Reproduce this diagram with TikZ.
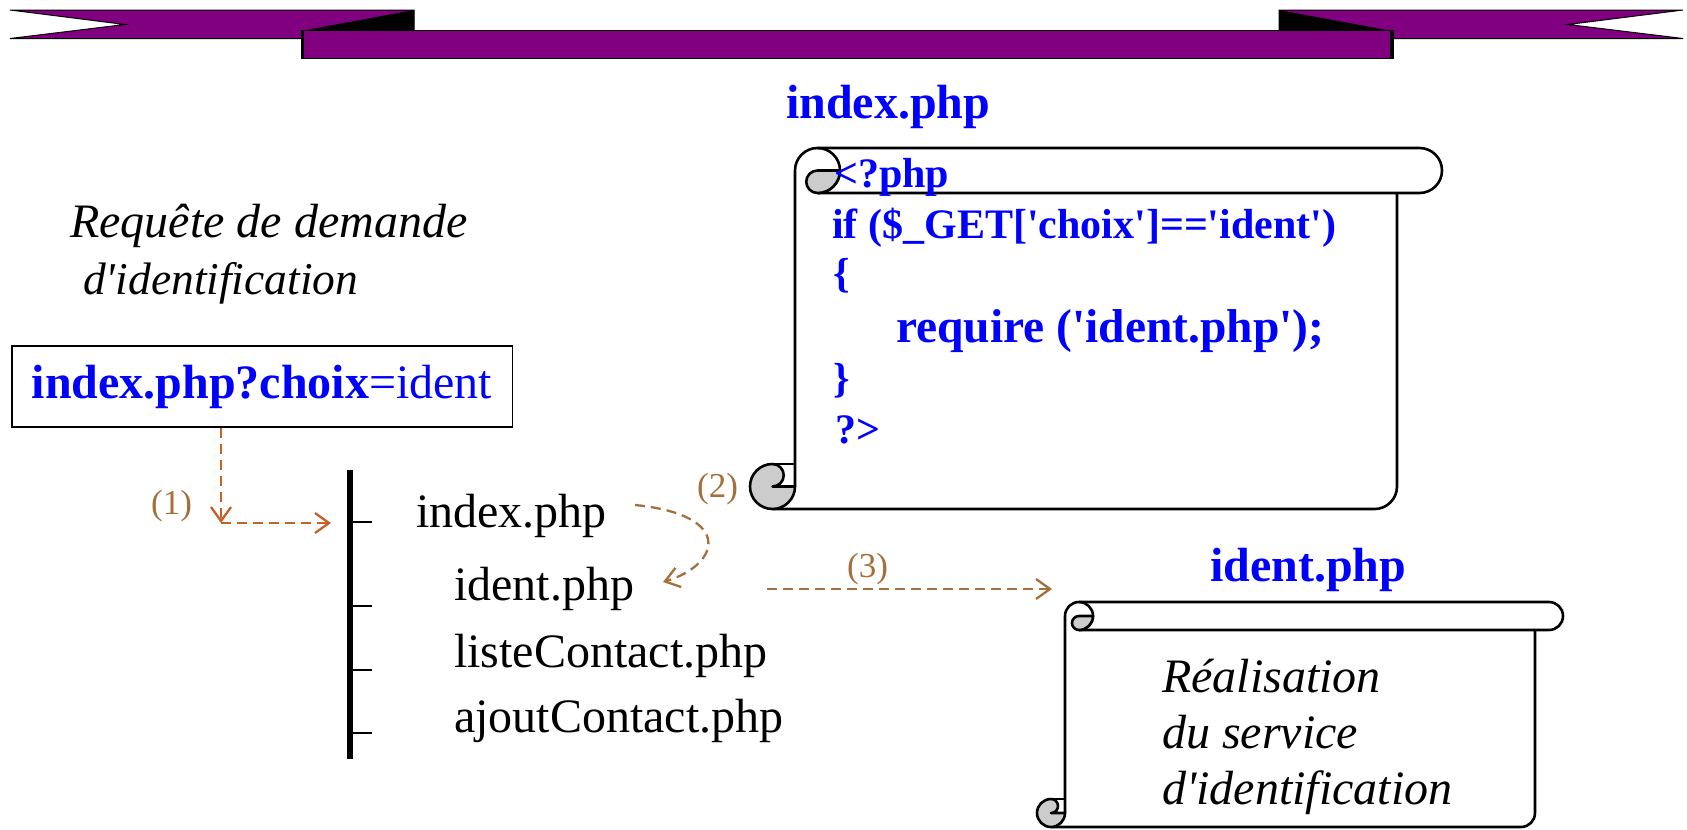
\documentclass[tikz,border=0pt]{standalone}
\usepackage{fontspec}
\setmainfont{Liberation Serif}
\usetikzlibrary{arrows.meta}
\definecolor{ribbon}{RGB}{128,0,128}
\definecolor{codeblue}{RGB}{0,0,255}
\definecolor{arrowA}{RGB}{197,96,40}
\definecolor{brownB}{RGB}{165,112,60}
\definecolor{curlgray}{RGB}{204,204,204}
\newcommand{\myq}{\textquotesingle}
\newcommand{\drawscroll}[5]{%
 \pgfmathsetmacro{\sL}{#1}%
 \pgfmathsetmacro{\sT}{#2}%
 \pgfmathsetmacro{\sR}{#3}%
 \pgfmathsetmacro{\sB}{#4}%
 \pgfmathsetmacro{\sc}{#5}%
 \pgfmathsetmacro{\sh}{#5/2}%
 \pgfmathsetmacro{\sqq}{#5/4}%
 \pgfmathsetmacro{\sXa}{#1+#5}%
 \pgfmathsetmacro{\sXr}{#3-#5}%
 \pgfmathsetmacro{\sCx}{#1+#5/2}%
 \pgfmathsetmacro{\sTx}{#1+1.5*#5}%
 \draw[scrollline] (\sXa,\sB-\sh) -- (\sXa,\sT+\sh) arc[start angle=180,end angle=90,radius=\sh pt] -- (\sR-\sh,\sT) arc[start angle=90,end angle=-90,radius=\sh pt] -- (\sTx,\sT+\sc);
 \draw[scrollline] (\sTx,\sT) arc[start angle=90,end angle=-90,radius=\sh pt];
 \filldraw[scrollline,fill=curlgray] (\sTx,\sT+\sh) -- (\sXa+\sc,\sT+\sh) arc[start angle=0,end angle=-90,radius=\sh pt] arc[start angle=270,end angle=90,radius=\sqq pt] -- cycle;
 \draw[scrollline] (\sXr,\sT+\sc) -- (\sXr,\sB-\sh) arc[start angle=0,end angle=-90,radius=\sh pt] -- (\sCx,\sB);
 \filldraw[scrollline,fill=curlgray] (\sXa,\sB-\sh) arc[start angle=0,end angle=-270,radius=\sh pt] arc[start angle=90,end angle=-90,radius=\sqq pt] -- cycle;
 \draw[scrollline] (\sCx,\sB-\sc) -- (\sXa,\sB-\sc);
}
\begin{document}
\begin{tikzpicture}[x=1pt,y=-1pt,
  scrollline/.style={line width=2.6pt,draw=black,line join=round},
  band/.style={fill=ribbon,draw=black,line width=1pt},
  txt/.style={font=\fontsize{48}{56}\selectfont,inner sep=0pt,anchor=base west},
  title/.style={txt,font=\fontsize{48}{56}\selectfont\bfseries,text=codeblue},
  code/.style={inner sep=0pt,anchor=base west,font=\fontsize{42}{50}\selectfont\bfseries,text=codeblue},
  lbl/.style={inner sep=0pt,anchor=base west,font=\fontsize{35}{40}\selectfont,text=brownB},
  dsh/.style={line width=2.3pt,dash pattern=on 10pt off 6pt},
  arrA/.style={dsh,draw=arrowA,-{Straight Barb[length=14pt,width=20pt]}},
  arrB/.style={dsh,draw=brownB,-{Straight Barb[length=14pt,width=20pt]}},
  tick/.style={line width=2.5pt}]
\useasboundingbox (0,0) rectangle (1687,830);
% banner
\filldraw[band] (10,10) -- (414,10) -- (414,38.5) -- (10,38.5) -- (125,24.5) -- cycle;
\filldraw[band] (1683,10) -- (1279,10) -- (1279,38.5) -- (1683,38.5) -- (1568,24.5) -- cycle;
\fill[black] (414,10) -- (414,31) -- (301,31) -- cycle;
\fill[black] (1279,10) -- (1279,31) -- (1392,31) -- cycle;
\filldraw[band] (301,30) rectangle (1393,58);
\draw[line width=3pt] (302.5,30) -- (302.5,58);
\draw[line width=3pt] (1391.5,30) -- (1391.5,58);
% request
\node[txt,font=\fontsize{48}{56}\selectfont\itshape] (rq1) at (70,237) {Requête de demande};
\node[txt,font=\fontsize{45.5}{56}\selectfont\itshape] (rq2) at (83,294) {d\myq identification};
\node[draw,line width=1.6pt,anchor=west,minimum height=81pt,inner xsep=20pt,inner ysep=0pt,font=\fontsize{48}{56}\selectfont,text=codeblue] (req) at (11,386.5) {\textbf{index.php?choix}=ident};
% tree
\draw[line width=5.5pt] (350,470) -- (350,759);
\draw[tick] (350,522) -- (372,522);
\draw[tick] (350,606) -- (372,606);
\draw[tick] (350,670) -- (372,670);
\draw[tick] (350,733) -- (372,733);
\node[txt] (tidx) at (416,527) {index.php};
\node[txt] (tident) at (454,600) {ident.php};
\node[txt] (tliste) at (454,667) {listeContact.php};
\node[txt] (tajout) at (454,732) {ajoutContact.php};
% index.php scroll
\node[title] (tit1) at (786,118) {index.php};
\drawscroll{750}{148}{1442}{509}{45}
\node[code] (l1) at (834,187) {<?php};
\node[code] (l2) at (832,238) {if (\$\_GET[\myq choix\myq]==\myq ident\myq)};
\node[code] (l3) at (833,287) {\{};
\node[code,font=\fontsize{47.5}{52}\selectfont\bfseries] (l4) at (896,342) {require (\myq ident.php\myq);};
\node[code] (l5) at (833,392) {\}};
\node[code] (l6) at (835,443) {?>};
% ident.php scroll
\node[title] (tit2) at (1210,581) {ident.php};
\drawscroll{1037}{602}{1563}{827}{28}
\node[txt,font=\fontsize{48}{56}\selectfont\itshape] (s1) at (1162,692) {Réalisation};
\node[txt,font=\fontsize{48}{56}\selectfont\itshape] (s2) at (1162,748) {du service};
\node[txt,font=\fontsize{48}{56}\selectfont\itshape] (s3) at (1162,804) {d\myq identification};
% connectors
\coordinate (c1) at (221,523);
\coordinate (a1e) at (331,523);
\draw[arrA] (req.south -| c1) -- (c1);
\draw[arrA] (c1) -- (a1e);
\node[lbl] (n1) at (151,514) {(1)};
\coordinate (a2s) at (635,505);
\coordinate (a2e) at (663,582);
\draw[arrB] (a2s) .. controls (735,515) and (720,565) .. (a2e);
\node[lbl] (n2) at (697,497) {(2)};
\coordinate (a3s) at (767,589);
\coordinate (a3e) at (1052,589);
\draw[arrB] (a3s) -- (a3e);
\node[lbl] (n3) at (847,577) {(3)};
\end{tikzpicture}
\end{document}
